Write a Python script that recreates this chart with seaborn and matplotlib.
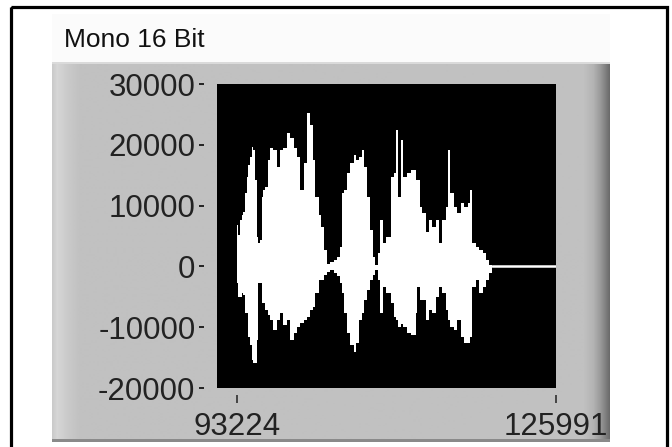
import numpy as np
import matplotlib
matplotlib.use("Agg")
import matplotlib.pyplot as plt
import seaborn as sns
from matplotlib.patches import Rectangle

# waveform envelope (sample index, max, min per column)
sample_idx = [93224, 93360, 93530, 93710, 93870, 94050, 94220, 94390, 94560, 94740,
              94900, 95080, 95250, 95420, 95590, 95770, 95930, 96110, 96390, 96620,
              96960, 97310, 97650, 97990, 98350, 98690, 99030, 99380, 99720, 100060,
              100410, 100750, 100980, 101260, 101600, 101850, 102120, 102470, 102810, 103150,
              103500, 103770, 104040, 104250, 104530, 104870, 105210, 105490, 105720, 106070,
              106310, 106590, 106860, 107170, 107440, 107680, 107960, 108190, 108540, 108990,
              109330, 109540, 109740, 110020, 110300, 110710, 111120, 111570, 111740, 111980,
              112260, 112600, 112940, 113290, 113630, 113970, 114320, 114660, 114860, 115100,
              115520, 115870, 116200, 116550, 116900, 117170, 117410, 117750, 118090, 118440,
              118780, 119120, 119390]
env_upper = [6800, 5200, 7600, 8500, 8900, 12100, 14700, 16700, 18000, 19600,
             19100, 14200, 4800, 3800, 4300, 11400, 12600, 13100, 17500, 19500,
             19100, 16300, 19100, 19500, 21900, 21100, 19500, 18000, 12600, 17000,
             25200, 23300, 17500, 11400, 8500, 6500, 2700, 400, 700, 1100,
             1500, 3200, 12100, 12600, 15400, 17000, 18300, 17500, 18000, 19100,
             16300, 11400, 6000, 1500, 200, 2200, 7600, 3800, 4800, 14700,
             15400, 22400, 11400, 20800, 14700, 15400, 15900, 14200, 14200, 9800,
             8800, 5700, 7600, 6500, 7600, 3800, 7600, 9800, 19100, 12100,
             9800, 8800, 10400, 9800, 10400, 12600, 3800, 3200, 2700, 2200,
             1100, 200, -100]
env_lower = [-2700, -5000, -5000, -4400, -4700, -7700, -7700, -11600, -12900, -15400,
             -15900, -15900, -12100, -2700, -2700, -6000, -6000, -7200, -8000, -8800,
             -10500, -8800, -7700, -9600, -8800, -12100, -11000, -10000, -9300, -8800,
             -8300, -7200, -6700, -4400, -2200, -2200, -1400, -900, -600, -1100,
             -1600, -2700, -4400, -7700, -11000, -12900, -14100, -12600, -8800, -7700,
             -5500, -3900, -2200, -1400, -600, -2200, -7700, -3400, -4400, -6000,
             -8300, -8800, -10000, -9500, -10000, -11000, -11300, -7700, -3400, -5500,
             -5500, -8800, -7200, -7700, -5000, -3400, -4400, -7200, -8800, -10000,
             -10500, -8800, -11600, -12600, -12600, -11600, -3400, -2200, -4400, -3400,
             -2200, -1100, -100]

# silent tail after the sound ends
tail_idx = [119390, 125991]
tail_val = [0, 0]

x_ticks = [93224, 125991]
y_ticks = [-20000, -10000, 0, 10000, 20000, 30000]
title = "Mono 16 Bit"

sns.set_style("white")
plt.rcParams["font.family"] = ["Liberation Sans", "DejaVu Sans"]
plt.rcParams["axes.unicode_minus"] = False

W, H = 672, 447
fig = plt.figure(figsize=(W / 100, H / 100), dpi=100)

# background layer in pixel coordinates
bg = fig.add_axes([0, 0, 1, 1], zorder=0)
bg.set_xlim(0, W)
bg.set_ylim(H, 0)
bg.axis("off")

bg.add_patch(Rectangle((52, 14), 558, 48, facecolor="#fbfbfb", edgecolor="none"))
cols = np.arange(52, 611)
shade = np.interp(cols, [52, 57, 68, 80, 584, 594, 601, 606, 610],
                  [0.79, 0.84, 0.79, 0.755, 0.755, 0.70, 0.60, 0.50, 0.42])
bg.imshow(shade[None, :], extent=(52, 610, 442, 62), cmap="gray",
          vmin=0, vmax=1, aspect="auto", interpolation="bilinear")
bg.add_patch(Rectangle((52, 439), 558, 3, facecolor="#8a8a8a", edgecolor="none"))
bg.add_patch(Rectangle((52, 62), 558, 2, facecolor="#dadada", edgecolor="none"))
bg.add_patch(Rectangle((11, 7), 656, 460, fill=False, edgecolor="black", lw=2.3))
bg.text(64, 47, title, fontsize=19, ha="left", va="baseline", color="#111111")

# waveform graph
ax = fig.add_axes([217 / W, 1 - 388 / H, 339 / W, 304 / H], zorder=2)
ax.set_facecolor("black")
ax.fill_between(sample_idx, env_lower, env_upper, step="post",
                color="white", linewidth=0)
sns.lineplot(x=tail_idx, y=tail_val, color="white", linewidth=1.8, ax=ax)

ax.set_xlim(91163, 125991)
ax.set_ylim(-20000, 30000)
ax.set_xticks(x_ticks)
ax.set_xticklabels([str(v) for v in x_ticks])
ax.set_yticks(y_ticks)
ax.set_yticklabels([str(v) for v in y_ticks])

for s in ax.spines.values():
    s.set_visible(False)
ax.spines["left"].set_position(("outward", 9.4))
ax.spines["bottom"].set_position(("outward", 5))

ax.tick_params(axis="y", direction="out", length=3.6, width=1.4, pad=2.5,
               colors="#222222", labelsize=22.5, left=True)
ax.tick_params(axis="x", direction="out", length=5.8, width=1.1, pad=6.5,
               colors="#222222", labelsize=22.5, bottom=True)

fig.savefig("out.png", dpi=100)
